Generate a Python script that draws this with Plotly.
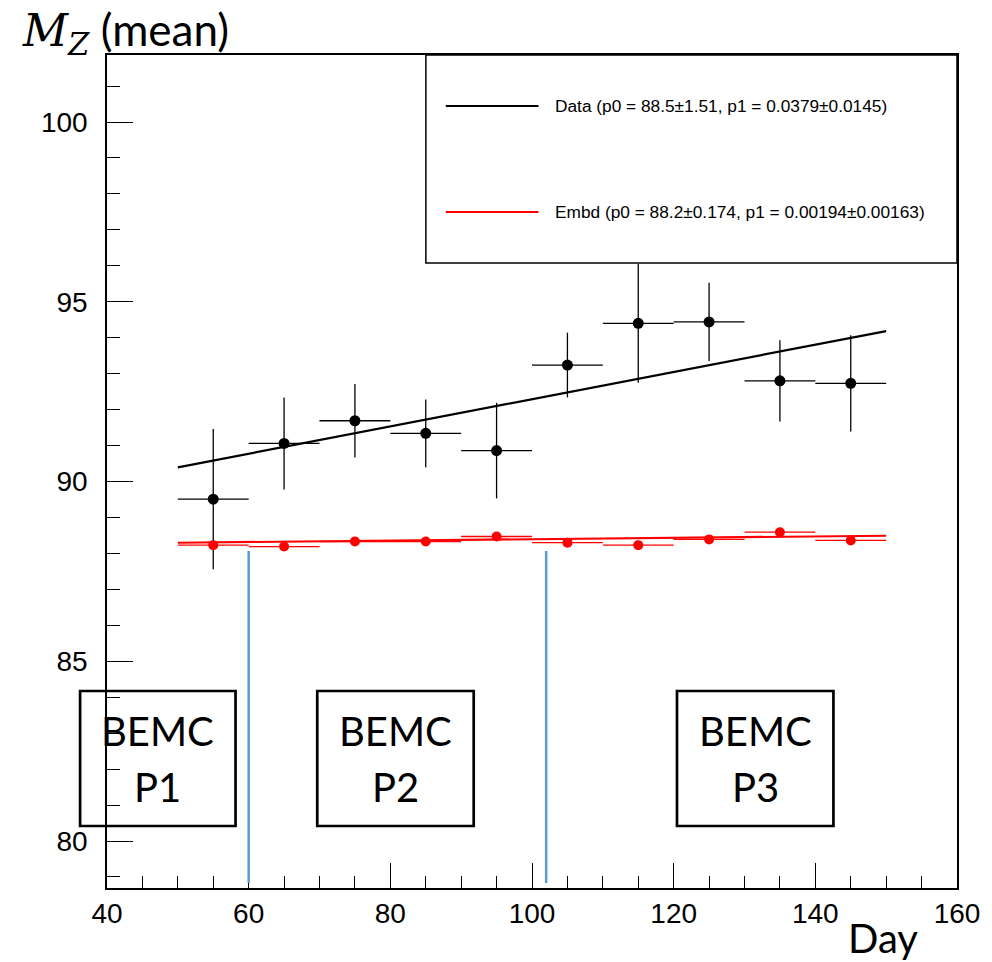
import plotly.graph_objects as go

# ---------------- data ----------------
days = [55, 65, 75, 85, 95, 105, 115, 125, 135, 145]
day_halfwidth = [5, 5, 5, 5, 5, 5, 5, 5, 5, 5]

data_mean = [89.51, 91.06, 91.69, 91.34, 90.86, 93.24, 94.40, 94.44, 92.80, 92.73]
data_err = [1.95, 1.28, 1.02, 0.94, 1.33, 0.90, 1.65, 1.09, 1.13, 1.34]

embd_mean = [88.23, 88.19, 88.33, 88.33, 88.47, 88.30, 88.23, 88.39, 88.59, 88.36]
embd_err = [0.05, 0.05, 0.05, 0.05, 0.05, 0.05, 0.05, 0.05, 0.05, 0.05]

# linear fits (p0 + p1*x) as reported in the legend
data_fit = {"p0": 88.5, "p0e": 1.51, "p1": 0.0379, "p1e": 0.0145}
embd_fit = {"p0": 88.2, "p0e": 0.174, "p1": 0.00194, "p1e": 0.00163}
fit_range = [50, 150]

period_bounds = [60, 102]          # blue separators (day)
period_line_y = [78.83, 88.07]
period_labels = ["BEMC<br>P1", "BEMC<br>P2", "BEMC<br>P3"]

x_range = [40, 160]
y_range = [78.693, 101.864]
x_ticks = [40, 60, 80, 100, 120, 140, 160]
y_ticks = [80, 85, 90, 95, 100]

# ---------------- geometry helpers (layout, pixels) ----------------
W, H = 992, 962
L, R, T, B = 107, 32, 55, 74
PW, PH = W - L - R, H - T - B


def px(xp):
    return (xp - L) / PW


def py(yp):
    return (H - B - yp) / PH


fig = go.Figure()

# Data points
fig.add_trace(go.Scatter(
    x=days, y=data_mean, mode="markers",
    marker=dict(color="black", size=11),
    error_x=dict(type="data", array=day_halfwidth, color="black", thickness=1.3, width=0),
    error_y=dict(type="data", array=data_err, color="black", thickness=1.3, width=0),
    showlegend=False,
))
# Embedding points
fig.add_trace(go.Scatter(
    x=days, y=embd_mean, mode="markers",
    marker=dict(color="red", size=10),
    error_x=dict(type="data", array=day_halfwidth, color="red", thickness=1.3, width=0),
    error_y=dict(type="data", array=embd_err, color="red", thickness=1.3, width=0),
    showlegend=False,
))

# Fit lines
for fit, col in [(data_fit, "black"), (embd_fit, "red")]:
    fig.add_trace(go.Scatter(
        x=fit_range, y=[fit["p0"] + fit["p1"] * d for d in fit_range],
        mode="lines", line=dict(color=col, width=2.2), showlegend=False,
    ))

shapes = []
# blue period separators
for xb in period_bounds:
    shapes.append(dict(type="line", xref="x", yref="y", x0=xb, x1=xb,
                       y0=period_line_y[0], y1=period_line_y[1],
                       line=dict(color="#5B9BD5", width=2.5), layer="above"))

# period boxes (pixel positions)
boxes_px = [(80, 236), (318, 475), (679, 836)]
box_top, box_bot = 691, 826
annotations = []
for (x0, x1), lab in zip(boxes_px, period_labels):
    shapes.append(dict(type="rect", xref="paper", yref="paper",
                       x0=px(x0), x1=px(x1), y0=py(box_bot), y1=py(box_top),
                       line=dict(color="black", width=2.7), fillcolor="rgba(0,0,0,0)",
                       layer="above"))
    top, bottom = lab.split("<br>")
    cx = px((x0 + x1) / 2)
    for txt, yc in [(top, 731), (bottom, 787)]:
        annotations.append(dict(text=txt, x=cx, y=py(yc), xref="paper", yref="paper",
                                xanchor="center", yanchor="middle", showarrow=False,
                                font=dict(family="Lato", size=40, color="black")))

# legend box
leg_x0, leg_x1, leg_y0, leg_y1 = 427, 960, 55, 263
shapes.append(dict(type="rect", xref="paper", yref="paper",
                   x0=px(leg_x0), x1=px(leg_x1), y0=py(leg_y1), y1=py(leg_y0),
                   line=dict(color="black", width=1.5), fillcolor="white", layer="above"))


def fit_label(name, f):
    return (f"{name} (p0 = {f['p0']:g}\u00b1{f['p0e']:g}, "
            f"p1 = {f['p1']:g}\u00b1{f['p1e']:g})")


for name, f, col, yl in [("Data", data_fit, "black", 106), ("Embd", embd_fit, "red", 212)]:
    shapes.append(dict(type="line", xref="paper", yref="paper",
                       x0=px(447), x1=px(540), y0=py(yl), y1=py(yl),
                       line=dict(color=col, width=2), layer="above"))
    annotations.append(dict(text=fit_label(name, f), x=px(555), y=py(yl),
                            xref="paper", yref="paper", xanchor="left", yanchor="middle",
                            showarrow=False,
                            font=dict(family="Liberation Sans", size=17.3, color="black")))

# axis titles
annotations.append(dict(
    text="<span style=\"font-family:'DejaVu Serif'\"><i>M</i><sub><i>Z</i></sub></span> (mean)",
    x=px(20), y=py(32), xref="paper", yref="paper", xanchor="left", yanchor="middle",
    showarrow=False, font=dict(family="Lato", size=44, color="black")))
annotations.append(dict(
    text="Day", x=px(886), y=py(938), xref="paper", yref="paper",
    xanchor="center", yanchor="middle", showarrow=False,
    font=dict(family="Lato", size=40, color="black")))

tickfont = dict(family="Liberation Sans", size=28, color="black")

fig.update_layout(
    width=W, height=H,
    margin=dict(l=L, r=R, t=T, b=B, pad=0),
    paper_bgcolor="white", plot_bgcolor="white",
    shapes=shapes, annotations=annotations,
    showlegend=False,
    xaxis=dict(range=x_range, tickvals=x_ticks, ticks="inside", ticklen=25, tickwidth=1,
               tickcolor="black", showgrid=False, zeroline=False, showline=True,
               linecolor="black", linewidth=1.5, mirror=True, tickfont=tickfont,
               minor=dict(ticks="inside", ticklen=12, dtick=5, tickcolor="black",
                          showgrid=False, tick0=40)),
    yaxis=dict(range=y_range, tickvals=y_ticks, ticks="inside", ticklen=26, tickwidth=1,
               tickcolor="black", showgrid=False, zeroline=False, showline=True,
               linecolor="black", linewidth=1.5, mirror=True, tickfont=tickfont,
               ticklabelstandoff=12,
               minor=dict(ticks="inside", ticklen=13, dtick=1, tickcolor="black",
                          showgrid=False, tick0=80)),
)

fig.write_html("out.html")
